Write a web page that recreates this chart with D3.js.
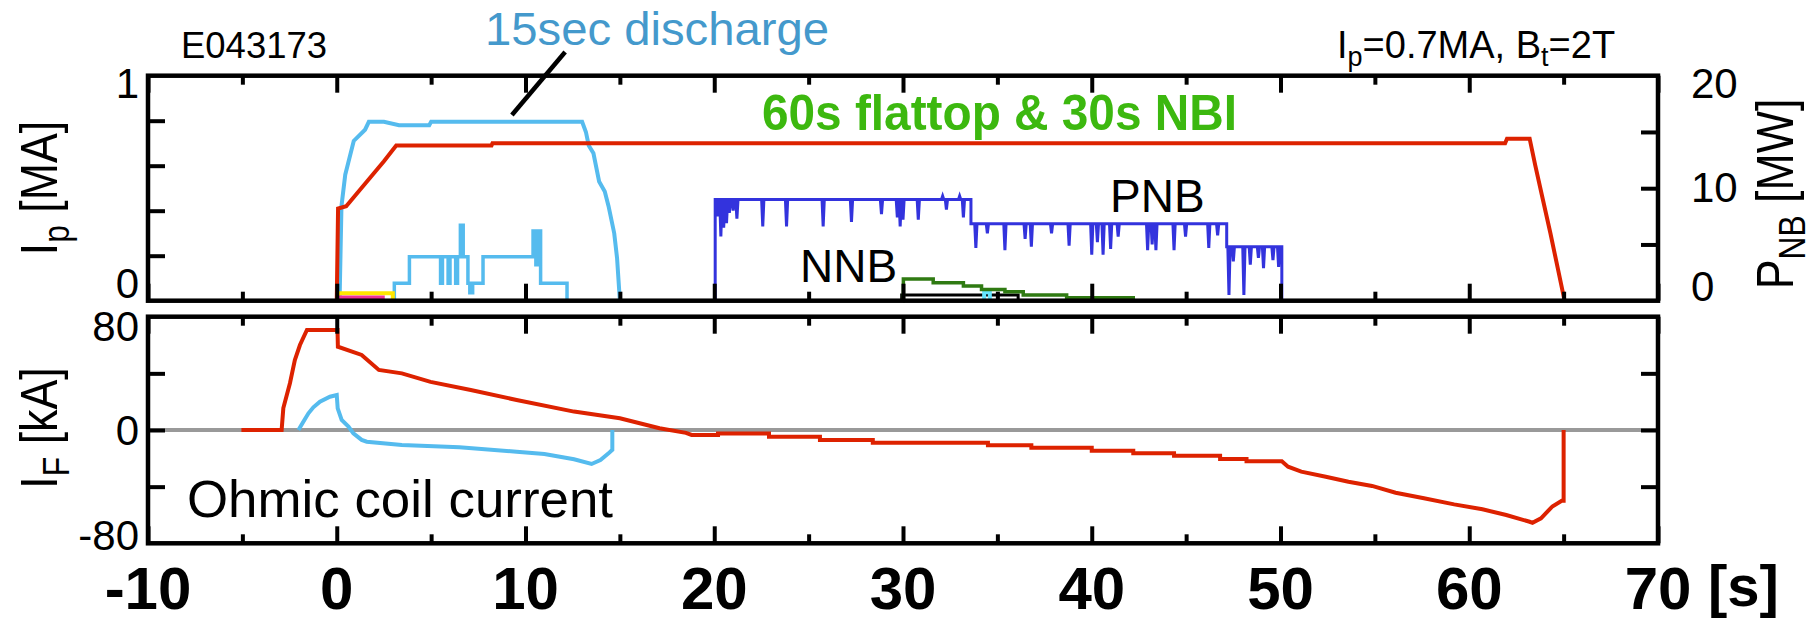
<!DOCTYPE html>
<html>
<head>
<meta charset="utf-8">
<script src="https://cdn.jsdelivr.net/npm/d3@7"></script>
<style>
body { margin: 0; background: #fff; }
text { font-family: "Liberation Sans", Arial, sans-serif; }
</style>
</head>
<body>
<svg id="chart" width="1814" height="622"></svg>
<script>

// tick values
var tMajor = [-10, 0, 10, 20, 30, 40, 50, 60, 70];
var tMinor = [-5, 5, 15, 25, 35, 45, 55, 65];
var ipTicks = [0.2, 0.4, 0.6, 0.8];
var ipLabels = [0, 1];
var pnbTicks = [5, 10, 15];
var pnbLabels = [0, 10, 20];
var ifTicks = [-40, 0, 40];
var ifLabels = [-80, 0, 80];

// plasma current, 60 s shot [MA]
var ipLongT = [0.0, 0.07, 0.5, 1.0, 1.5, 2.0, 2.5, 3.15, 8.2, 8.25, 61.9, 62.0, 63.2, 63.5, 63.9, 64.3, 64.7, 65.05];
var ipLongV = [0, 0.41, 0.42, 0.47, 0.52, 0.57, 0.62, 0.69, 0.69, 0.70, 0.70, 0.72, 0.72, 0.60, 0.45, 0.30, 0.14, 0];

// plasma current, 15 s shot [MA]
var ipShortT = [0.15, 0.25, 0.45, 0.6, 0.9, 1.5, 1.7, 2.5, 3.3, 4.9, 5.0, 13.0, 13.2, 13.35, 13.6, 13.9, 14.2, 14.4, 14.7, 14.85, 15.0];
var ipShortV = [0, 0.42, 0.56, 0.61, 0.71, 0.76, 0.795, 0.795, 0.78, 0.78, 0.795, 0.795, 0.75, 0.69, 0.655, 0.53, 0.485, 0.42, 0.30, 0.19, 0];

// NB power, 15 s shot [MW]
var pnbShortT = [3.0, 3.05, 3.85, 5.5, 5.6, 5.9, 6.0, 6.3, 6.4, 6.55, 6.7, 6.95, 7.05, 7.2, 7.75, 10.3, 10.4, 10.55, 10.65, 10.8, 12.2];
var pnbShortV = [0, 1.55, 3.9, 1.55, 3.9, 1.55, 3.9, 1.55, 3.9, 6.7, 3.9, 1.55, 0.7, 1.55, 3.9, 3.9, 6.2, 3.2, 6.2, 1.55, 0];

// small beams of the 15 s shot [MW]
var yellowT = [0.1, 0.1, 2.97, 2.97];
var yellowV = [0, 0.67, 0.67, 0];
var magentaT = [0.1, 0.1, 2.45, 2.45];
var magentaV = [0, 0.3, 0.3, 0];

// PNB, 60 s shot: power levels and short dips [MW]
var pnbStepT = [20.05, 33.6, 47.15, 50.07];
var pnbStepV = [9.0, 6.85, 4.8, 0];
var pnbDipT = [20.2, 20.35, 20.5, 20.65, 20.8, 21.0, 21.2, 22.57, 23.83, 25.77, 27.27, 28.86, 29.7, 29.85, 30.0, 30.81, 32.1, 32.3, 33.0, 33.2,
	33.86, 34.47, 35.4, 36.47, 36.8, 37.87, 38.8, 40.0, 40.3, 40.6, 41.0, 41.4, 42.96, 43.2, 43.4, 44.36, 44.97, 46.2, 46.67,
	47.27, 47.5, 48.06, 48.4, 48.83, 49.1, 49.6, 49.9];
var pnbDipV = [7.5, 5.7, 6.5, 6.9, 7.8, 8.0, 7.3, 6.6, 6.6, 6.6, 7.0, 7.7, 7.4, 6.6, 7.2, 7.2, 9.3, 8.1, 9.3, 7.4,
	4.7, 6.0, 4.5, 5.5, 4.8, 6.0, 4.9, 4.1, 5.2, 4.1, 4.6, 5.7, 4.5, 5.0, 4.5, 4.5, 5.7, 4.7, 5.8,
	0.5, 3.5, 0.5, 3.2, 3.8, 2.9, 3.6, 3.0];

// NNB, 60 s shot [MW]
var nnbT = [30.0, 30.02, 31.6, 33.2, 34.16, 35.4, 36.37, 38.67, 42.2];
var nnbV = [0, 1.93, 1.6, 1.3, 1.0, 0.8, 0.5, 0.27, 0];
var blackT = [29.93, 29.93, 36.1, 36.1];
var blackV = [0, 0.5, 0.5, 0];
var cyanT = [34.3, 34.3, 34.6, 34.6];
var cyanV = [0, 0.75, 0.75, 0];

// ohmic coil current, 60 s shot [kA]
var ifLongT = [-5.05, -2.92, -2.83, -2.48, -2.22, -1.95, -1.58, 0.04, 0.06, 1.32, 2.23, 3.45, 4.97, 7.1, 9.53, 12.57, 15.0, 17.1,
	18.5, 18.8, 20.2, 20.2, 22.9, 22.9, 25.6, 25.6, 28.4, 28.4, 34.5, 34.5, 36.8, 36.8, 40.0, 40.0, 42.2, 42.2, 44.36, 44.36,
	46.8, 46.8, 48.2, 48.2, 50.07, 50.4, 51.1, 52.4, 53.6, 54.85, 56.1, 57.6, 59.2, 60.7, 61.96, 63.2, 63.35, 63.8, 64.4, 64.9, 65.0, 65.0];
var ifLongV = [0, 0, 15.5, 33, 49.4, 60, 70.6, 70.6, 58.8, 53, 42.4, 40, 34, 28.2, 21.2, 13, 8.3, 1.2,
	-2.0, -3.5, -3.5, -2.4, -2.4, -4.7, -4.7, -7.1, -7.1, -9, -9, -10.8, -10.8, -12.5, -12.5, -14.6, -14.6, -16.5, -16.5, -18.1,
	-18.1, -20.5, -20.5, -22.1, -22.1, -25.9, -29.4, -33, -36.5, -39.5, -44.3, -48.2, -52.5, -56, -60, -64.8, -65.5, -62.4, -54, -50, -50, 0];

// ohmic coil current, 15 s shot [kA]
var ifShortT = [-2.03, -1.77, -1.5, -1.24, -0.89, -0.36, 0.0, 0.05, 0.26, 0.62, 0.88, 1.32, 1.59, 3.45, 6.5, 9.53, 11.0, 12.57, 13.5, 13.97, 14.4, 14.6, 14.6];
var ifShortV = [0, 5.9, 11.8, 16, 20, 23.5, 24.7, 15.3, 7.1, 2.4, -2.4, -7, -8.3, -10.6, -12.2, -15.3, -17, -20.7, -24, -21.2, -16.5, -14, 0];



var svg = d3.select("#chart");

// scales
var x = d3.scaleLinear().domain([-10, 70]).range([148, 1658]);
var yIp = d3.scaleLinear().domain([0, 1]).range([300.7, 75.7]);
var yP = d3.scaleLinear().domain([0, 20]).range([300.7, 75.7]);
var yIF = d3.scaleLinear().domain([-80, 80]).range([543.3, 316.7]);

var red = "#dd2200", lightBlue = "#55bbee", darkBlue = "#3333dd", green = "#2f7a12";



// draw one trace from a time array and a value array
function drawSeries(tArr, vArr, yScale, color, width, curve) {
	var pts = tArr.map(function (t, i) { return [t, vArr[i]]; });
	svg.append("path")
		.datum(pts)
		.attr("d", d3.line()
			.x(function (d) { return x(d[0]); })
			.y(function (d) { return yScale(d[1]); })
			.curve(curve || d3.curveLinear))
		.attr("fill", "none")
		.attr("stroke", color)
		.attr("stroke-width", width)
		.attr("stroke-linejoin", "miter");
};



// PNB trace: step levels with narrow dips put in
function pnbPoints() {
	var pts = [[pnbStepT[0], 0]];
	var dips = pnbDipT.map(function (t, i) { return [t, pnbDipV[i]]; });
	var w = 0.06;
	for (var i = 0; i < pnbStepT.length - 1; i++) {
		var t0 = pnbStepT[i], t1 = pnbStepT[i + 1], lev = pnbStepV[i];
		pts.push([t0, lev]);
		dips.forEach(function (d) {
			if (d[0] > t0 && d[0] < t1) {
				pts.push([d[0] - w, lev]);
				pts.push([d[0], d[1]]);
				pts.push([d[0] + w, lev]);
			}
		});
		pts.push([t1, lev]);
	}
	pts.push([pnbStepT[pnbStepT.length - 1], 0]);
	return pts;
};



// bottom panel: zero line below the traces
svg.append("line")
	.attr("x1", x(-10)).attr("x2", x(70))
	.attr("y1", yIF(0)).attr("y2", yIF(0))
	.attr("stroke", "#999")
	.attr("stroke-width", 4);

// top panel traces
drawSeries(pnbShortT, pnbShortV, yP, lightBlue, 3.5, d3.curveStepAfter);
drawSeries(ipShortT, ipShortV, yIp, lightBlue, 4);
drawSeries(ipLongT, ipLongV, yIp, red, 4);
drawSeries(yellowT, yellowV, yP, "#ffe600", 4);
drawSeries(magentaT, magentaV, yP, "#ee3399", 3.5);

var pnb = pnbPoints();
svg.append("path")
	.datum(pnb)
	.attr("d", d3.line().x(function (d) { return x(d[0]); }).y(function (d) { return yP(d[1]); }))
	.attr("fill", "none")
	.attr("stroke", darkBlue)
	.attr("stroke-width", 3);

drawSeries(blackT, blackV, yP, "#000", 3);
drawSeries(cyanT, cyanV, yP, "#66e6ff", 4);
drawSeries(nnbT, nnbV, yP, green, 3.5, d3.curveStepAfter);

// bottom panel traces
drawSeries(ifLongT, ifLongV, yIF, red, 4);
drawSeries(ifShortT, ifShortV, yIF, lightBlue, 4);



// frames and inward ticks for one panel
function drawFrame(yScale, leftTicks, rightScale, rightTicks) {
	var top = yScale.range()[1], bottom = yScale.range()[0];
	var axes = [
		[d3.axisTop(x).tickValues(tMajor).tickSize(-17), top, 0],
		[d3.axisTop(x).tickValues(tMinor).tickSize(-9), top, 0],
		[d3.axisBottom(x).tickValues(tMajor).tickSize(-17), bottom, 0],
		[d3.axisBottom(x).tickValues(tMinor).tickSize(-9), bottom, 0],
		[d3.axisLeft(yScale).tickValues(leftTicks).tickSize(-17), 0, x(-10)],
		[d3.axisRight(rightScale).tickValues(rightTicks).tickSize(-17), 0, x(70)]
	];
	axes.forEach(function (a) {
		var g = svg.append("g")
			.attr("transform", "translate(" + a[2] + "," + a[1] + ")")
			.call(a[0].tickFormat(""));
		g.select(".domain").remove();
		g.selectAll(".tick line").attr("stroke", "#000").attr("stroke-width", 4);
	});
	svg.append("rect")
		.attr("x", x(-10)).attr("y", top)
		.attr("width", x(70) - x(-10)).attr("height", bottom - top)
		.attr("fill", "none")
		.attr("stroke", "#000")
		.attr("stroke-width", 4.5);
};

drawFrame(yIp, ipTicks, yP, pnbTicks);
drawFrame(yIF, ifTicks, yIF, ifTicks);



// tick labels: top one pushed down, bottom one pulled up, as in the original
function yLabels(scale, values, xPos, anchor, shifts) {
	values.forEach(function (v, i) {
		svg.append("text")
			.attr("x", xPos)
			.attr("y", scale(v) + shifts[i])
			.attr("text-anchor", anchor)
			.attr("font-size", 42)
			.text(v);
	});
};

yLabels(yIp, ipLabels, 139, "end", [-3, 22]);
yLabels(yP, pnbLabels, 1691, "start", [0, 14, 22]);
yLabels(yIF, ifLabels, 139, "end", [7, 15, 24]);

// time labels, kept clear of the bottom edge
svg.append("g").selectAll("text")
	.data(tMajor)
	.join("text")
	.attr("x", function (d) { return x(d); })
	.attr("y", 609)
	.attr("text-anchor", "middle")
	.attr("font-size", 60)
	.attr("font-weight", "bold")
	.text(function (d) { return d; });

svg.append("text")
	.attr("x", 1708).attr("y", 606)
	.attr("font-size", 58)
	.attr("font-weight", "bold")
	.text("[s]");



// rotated axis titles with a subscript
function yTitle(cx, cy, main, sub, rest) {
	var t = svg.append("text")
		.attr("transform", "translate(" + cx + "," + cy + ") rotate(-90) scale(0.86,1)")
		.attr("text-anchor", "middle")
		.attr("font-size", 52);
	t.append("tspan").text(main);
	t.append("tspan").attr("font-size", 37).attr("dy", 12).text(sub);
	t.append("tspan").attr("dy", -12).text(rest);
};

yTitle(57, 188, "I", "p", " [MA]");
yTitle(57, 428, "I", "F", " [kA]");
yTitle(1793, 194, "P", "NB", " [MW]");



// annotations
svg.append("text")
	.attr("x", 181).attr("y", 58)
	.attr("font-size", 36)
	.attr("textLength", 146).attr("lengthAdjust", "spacingAndGlyphs")
	.text("E043173");

svg.append("text")
	.attr("x", 485).attr("y", 45)
	.attr("font-size", 46)
	.attr("fill", "#4499cc")
	.attr("textLength", 344).attr("lengthAdjust", "spacingAndGlyphs")
	.text("15sec discharge");

svg.append("line")
	.attr("x1", x(12.1)).attr("y1", yIp(1.105))
	.attr("x2", x(9.28)).attr("y2", yIp(0.825))
	.attr("stroke", "#000")
	.attr("stroke-width", 4.5);

svg.append("text")
	.attr("x", 762).attr("y", 130)
	.attr("font-size", 50)
	.attr("font-weight", "bold")
	.attr("fill", "#3cb80f")
	.attr("textLength", 475).attr("lengthAdjust", "spacingAndGlyphs")
	.text("60s flattop & 30s NBI");

svg.append("text")
	.attr("x", 1110).attr("y", 212)
	.attr("font-size", 46)
	.text("PNB");

svg.append("text")
	.attr("x", 800).attr("y", 282)
	.attr("font-size", 46)
	.text("NNB");

svg.append("text")
	.attr("x", 187).attr("y", 517)
	.attr("font-size", 52)
	.attr("textLength", 426).attr("lengthAdjust", "spacingAndGlyphs")
	.text("Ohmic coil current");

// shot parameters
var par = svg.append("text")
	.attr("x", 1337).attr("y", 58)
	.attr("font-size", 38);
par.append("tspan").text("I");
par.append("tspan").attr("font-size", 27).attr("dy", 8).text("p");
par.append("tspan").attr("dy", -8).text("=0.7MA, B");
par.append("tspan").attr("font-size", 27).attr("dy", 8).text("t");
par.append("tspan").attr("dy", -8).text("=2T");

</script>
</body>
</html>
